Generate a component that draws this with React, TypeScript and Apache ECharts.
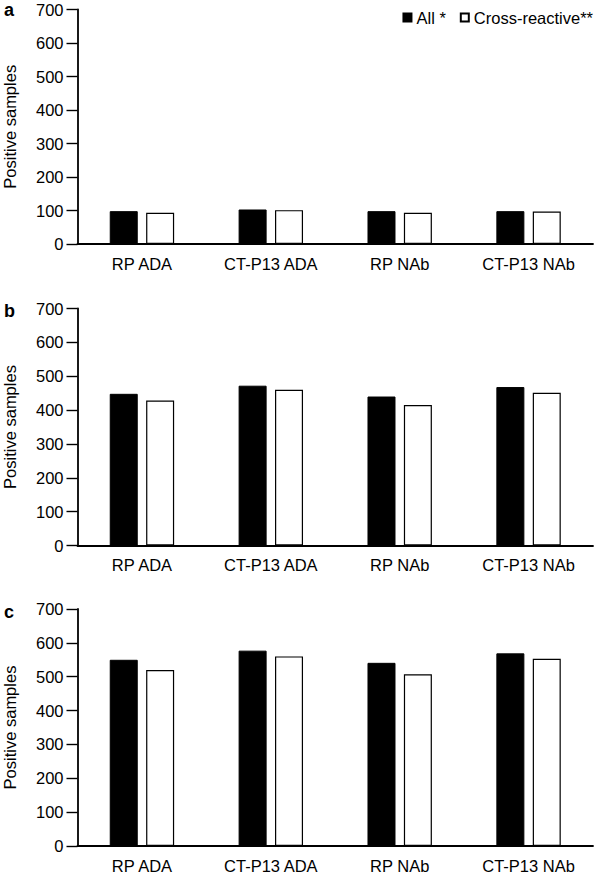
import { useEffect, useRef } from "react";
import * as echarts from "echarts";

const categories = ["RP ADA", "CT-P13 ADA", "RP NAb", "CT-P13 NAb"];
const seriesNames = ["All*", "Cross-reactive**"];
const panelLabels = ["a", "b", "c"];
const allA = [98, 103, 98, 98];
const crossA = [93, 101, 93, 97];
const allB = [448, 472, 440, 468];
const crossB = [428, 460, 415, 451];
const allC = [550, 577, 541, 569];
const crossC = [520, 560, 507, 553];
const yMin = 0;
const yMax = 700;
const yInterval = 100;

const FONT = "'Liberation Sans', Arial, sans-serif";
const panelTops = [9.5, 308.5, 609];
const panelHeights = [234.5, 237, 237];
const panelData = [
  [allA, crossA],
  [allB, crossB],
  [allC, crossC],
];

export default function App() {
  const ref = useRef<HTMLDivElement>(null);
  useEffect(() => {
    if (!ref.current) return;
    const chart = echarts.init(ref.current, undefined, { renderer: "svg" });
    const grids = panelTops.map((t, i) => ({
      left: 77.5,
      right: 7,
      top: t,
      height: panelHeights[i],
      containLabel: false,
      outerBoundsMode: "none",
    }));
    const xAxes = panelTops.map((_, i) => ({
      type: "category",
      gridIndex: i,
      data: categories,
      axisLine: { lineStyle: { color: "#000", width: 1.8 } },
      axisTick: { show: false },
      axisLabel: {
        color: "#000",
        fontSize: 16.5,
        lineHeight: 15,
        fontFamily: FONT,
        margin: 12,
      },
    }));
    const yAxes = panelTops.map((_, i) => ({
      type: "value",
      gridIndex: i,
      min: yMin,
      max: yMax,
      interval: yInterval,
      name: "Positive samples",
      nameLocation: "middle",
      nameGap: 59,
      nameTextStyle: { color: "#000", fontSize: 16.5, fontFamily: FONT },
      axisLine: { show: true, lineStyle: { color: "#000", width: 1.8 } },
      axisTick: { show: true, length: 11, lineStyle: { color: "#000", width: 1.4 } },
      axisLabel: {
        color: "#000",
        fontSize: 16.5,
        lineHeight: 13,
        fontFamily: FONT,
        margin: 14,
      },
      splitLine: { show: false },
    }));
    const series: any[] = [];
    panelData.forEach((pair, i) => {
      series.push({
        type: "bar",
        name: seriesNames[0],
        xAxisIndex: i,
        yAxisIndex: i,
        data: pair[0],
        barWidth: 28,
        barGap: "30%",
        itemStyle: { color: "#000", borderColor: "#000", borderWidth: 1 },
      });
      series.push({
        type: "bar",
        name: seriesNames[1],
        xAxisIndex: i,
        yAxisIndex: i,
        data: pair[1],
        barWidth: 28,
        barGap: "30%",
        itemStyle: { color: "#fff", borderColor: "#000", borderWidth: 1.2 },
      });
    });
    chart.setOption({
      animation: false,
      backgroundColor: "#fff",
      grid: grids,
      xAxis: xAxes,
      yAxis: yAxes,
      legend: {
        data: seriesNames,
        right: 2,
        top: 4,
        icon: "rect",
        itemWidth: 8,
        itemHeight: 8,
        itemGap: 14,
        formatter: (n: string) => (n === "All*" ? "All *" : n),
        textStyle: { color: "#000", fontSize: 16.5, fontFamily: FONT },
      },
      graphic: [1, 308.5, 609.5].map((t, i) => ({
        type: "text",
        left: 4,
        top: i === 0 ? t : t - 7,
        style: {
          text: panelLabels[i],
          fill: "#000",
          fontSize: 18,
          fontWeight: "bold",
          fontFamily: FONT,
        },
      })),
      series,
    });
    return () => chart.dispose();
  }, []);
  return (
    <div
      ref={ref}
      style={{ position: "absolute", left: 0, top: 0, width: 600, height: 874 }}
    />
  );
}
